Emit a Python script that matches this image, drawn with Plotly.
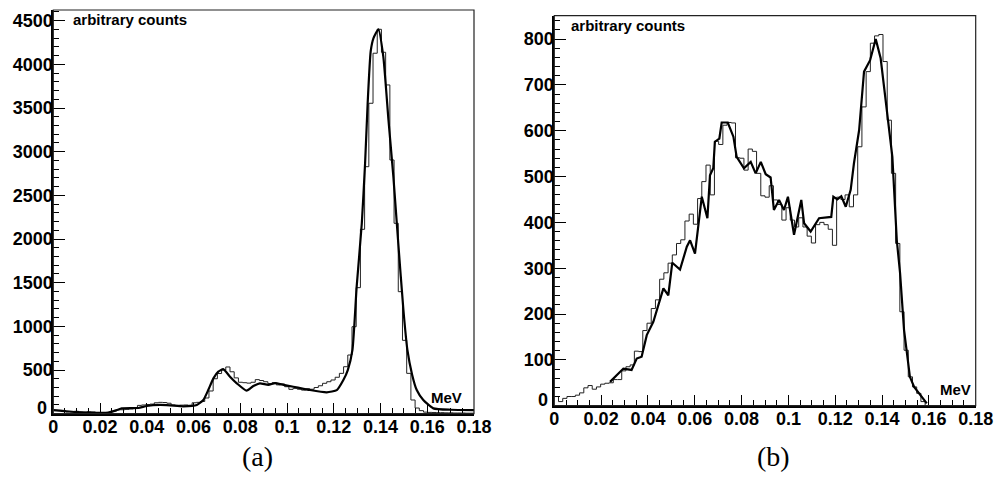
import numpy as np
import plotly.graph_objects as go

# ---------------- data ----------------
N_BINS = 100
X_MIN, X_MAX = 0.0, 0.18

hist_a = [40, 38, 25, 22, 20, 28, 18, 15, 22, 20,
          14, 12, 10, 15, 30, 45, 45, 50, 55, 60,
          95, 100, 105, 110, 125, 130, 128, 120, 100, 95,
          98, 100, 96, 125, 130, 140, 180, 260, 400, 460,
          500, 535, 480, 410, 360, 355, 350, 360, 390, 380,
          366, 345, 355, 330, 340, 309, 279, 290, 280, 270,
          285, 280, 300, 320, 348, 366, 386, 417, 462, 538,
          672, 996, 1443, 2111, 2828, 3554, 4127, 4401, 4138, 3764,
          2905, 2180, 1397, 840, 462, 157, 65, 35, 18, 15,
          14, 12, 12, 10, 10, 8, 8, 8, 6, 6]

curve_a_x = [0, 0.005, 0.01, 0.015, 0.02, 0.0235, 0.027, 0.0293, 0.0364, 0.04,
             0.0457, 0.05, 0.0556, 0.0614, 0.0642, 0.0663, 0.0685, 0.0706, 0.0727, 0.0756,
             0.0785, 0.0827, 0.0856, 0.0884, 0.092, 0.0949, 0.0985, 0.1027, 0.1098, 0.117,
             0.1213, 0.1241, 0.126, 0.128, 0.1298, 0.132, 0.1334, 0.1345, 0.1358, 0.137,
             0.1391, 0.1412, 0.1434, 0.1455, 0.1476, 0.1498, 0.1515, 0.1535, 0.1555, 0.1583,
             0.1626, 0.17, 0.18]
curve_a_y = [40, 30, 18, 12, 10, 12, 40, 61, 65, 88,
             100, 95, 85, 100, 157, 271, 405, 481, 510, 424,
             348, 264, 317, 348, 330, 350, 330, 309, 271, 245,
             271, 386, 500, 730, 1454, 2180, 2867, 3554, 4150, 4300,
             4401, 4088, 3363, 2714, 1951, 1187, 730, 450, 271, 157,
             61, 45, 42]

hist_b = [20, 9, 16, 20, 20, 23, 28, 39, 44, 36,
          41, 47, 49, 50, 57, 57, 76, 85, 89, 119,
          118, 164, 180, 212, 231, 276, 290, 311, 329, 354,
          362, 403, 418, 396, 452, 489, 525, 460, 577, 570,
          612, 618, 617, 541, 540, 514, 560, 555, 507, 458,
          455, 480, 449, 439, 405, 432, 405, 390, 410, 390,
          370, 355, 395, 400, 395, 385, 350, 455, 450, 460,
          434, 460, 565, 652, 729, 791, 807, 810, 751, 623,
          507, 354, 205, 121, 63, 41, 27, 9, 0, 0,
          0, 0, 0, 0, 0, 0, 0, 0, 0, 0]

curve_b_x = [0.0238, 0.0295, 0.0330, 0.0352, 0.0373, 0.0395, 0.0423, 0.0444, 0.0466, 0.0487,
             0.0504, 0.0537, 0.0566, 0.058, 0.0601, 0.063, 0.0654, 0.0665, 0.0679, 0.0686,
             0.0705, 0.0715, 0.0741, 0.0765, 0.0779, 0.081, 0.0839, 0.086, 0.0882, 0.0903,
             0.0924, 0.0938, 0.096, 0.0981, 0.0998, 0.1024, 0.1055, 0.1067, 0.1095, 0.1131,
             0.1183, 0.1192, 0.1209, 0.1226, 0.1245, 0.1266, 0.128, 0.1302, 0.1323, 0.1349,
             0.1373, 0.1394, 0.1422, 0.1444, 0.1463, 0.1477, 0.1494, 0.1508, 0.1519, 0.1537,
             0.1565, 0.1591]
curve_b_y = [52, 81, 78, 103, 107, 154, 183, 220, 256, 241,
             312, 297, 347, 361, 332, 456, 409, 503, 518, 576,
             583, 618, 618, 587, 543, 518, 532, 507, 532, 505,
             498, 427, 449, 427, 456, 373, 449, 398, 380, 409,
             412, 456, 450, 457, 434, 471, 529, 601, 729, 754,
             800, 758, 638, 543, 361, 289, 165, 100, 63, 41,
             23, 5]

x_ticks = [0, 0.02, 0.04, 0.06, 0.08, 0.1, 0.12, 0.14, 0.16, 0.18]
x_tick_text = ["0", "0.02", "0.04", "0.06", "0.08", "0.1", "0.12", "0.14", "0.16", "0.18"]
y_ticks_a = [0, 500, 1000, 1500, 2000, 2500, 3000, 3500, 4000, 4500]
y_ticks_b = [0, 100, 200, 300, 400, 500, 600, 700, 800]

y_label = "arbitrary counts"
x_label = "MeV"
panel_labels = ["(a)", "(b)"]

# ---------------- figure ----------------
W, H = 994, 477
edges = np.linspace(X_MIN, X_MAX, N_BINS + 1)


def step(vals):
    return list(edges), list(vals) + [vals[-1]]


def bold(labels):
    return ["<b>%s</b>" % t for t in labels]


def y_text(vals):
    # the zero label is drawn separately (raised, as in the original)
    return ["" if v == 0 else "<b>%d</b>" % v for v in vals]


fig = go.Figure()

hx, hy = step(hist_a)
fig.add_trace(go.Scatter(x=hx, y=hy, mode="lines", line=dict(shape="hv", color="#222", width=1),
                         xaxis="x", yaxis="y", showlegend=False, hoverinfo="skip"))
fig.add_trace(go.Scatter(x=curve_a_x, y=curve_a_y, mode="lines",
                         line=dict(shape="spline", smoothing=0.5, color="black", width=2.2),
                         xaxis="x", yaxis="y", showlegend=False))

hx, hy = step(hist_b)
fig.add_trace(go.Scatter(x=hx, y=hy, mode="lines", line=dict(shape="hv", color="#222", width=1),
                         xaxis="x2", yaxis="y2", showlegend=False, hoverinfo="skip"))
fig.add_trace(go.Scatter(x=curve_b_x, y=curve_b_y, mode="lines",
                         line=dict(color="black", width=2.2),
                         xaxis="x2", yaxis="y2", showlegend=False))


def px_x(p):
    return p / W


def px_y(p):
    return 1 - p / H


tick_font = dict(family="Liberation Sans", size=18, color="black")

common_x = dict(range=[X_MIN, X_MAX], tickmode="array", tickvals=x_ticks, ticktext=bold(x_tick_text),
                ticks="inside", ticklen=11, tickwidth=1, tickcolor="black",
                minor=dict(dtick=0.005, tick0=0, ticks="inside", ticklen=6, tickwidth=1, tickcolor="black"),
                showline=True, linecolor="black", linewidth=2, mirror=False,
                showgrid=False, zeroline=False, tickfont=tick_font, automargin=False,
                ticklabelstandoff=-4, fixedrange=True)
common_y = dict(ticks="inside", ticklen=12, tickwidth=1, tickcolor="black",
                showline=True, linecolor="black", linewidth=2, mirror=False,
                showgrid=False, zeroline=False, tickfont=tick_font, automargin=False,
                ticklabelstandoff=-5, fixedrange=True)

# panel geometry (pixels)
A = dict(l=53.3, r=474.0, t=10.0, b=413.7)
B = dict(l=554.3, r=975.7, t=15.7, b=405.7)

fig.update_layout(
    width=W, height=H,
    margin=dict(l=0, r=0, t=0, b=0),
    paper_bgcolor="white", plot_bgcolor="white",
    xaxis=dict(common_x, domain=[px_x(A["l"]), px_x(A["r"])], anchor="y"),
    yaxis=dict(common_y, domain=[px_y(A["b"]), px_y(A["t"])], anchor="x",
               range=[0, 4622], tickmode="array", tickvals=y_ticks_a,
               ticktext=y_text(y_ticks_a),
               minor=dict(dtick=100, tick0=0, ticks="inside", ticklen=6, tickwidth=1, tickcolor="black")),
    xaxis2=dict(common_x, domain=[px_x(B["l"]), px_x(B["r"])], anchor="y2"),
    yaxis2=dict(common_y, domain=[px_y(B["b"]), px_y(B["t"])], anchor="x2",
                range=[0, 851], tickmode="array", tickvals=y_ticks_b,
                ticktext=y_text(y_ticks_b),
                minor=dict(dtick=20, tick0=0, ticks="inside", ticklen=6, tickwidth=1, tickcolor="black")),
)

# frames
for P in (A, B):
    fig.add_shape(type="rect", xref="paper", yref="paper",
                  x0=px_x(P["l"]), x1=px_x(P["r"]), y0=px_y(P["b"]), y1=px_y(P["t"]),
                  line=dict(color="#222", width=1.2), fillcolor="rgba(0,0,0,0)", layer="above")

# raised zero labels of the y axes
for P in (A, B):
    fig.add_annotation(text="<b>0</b>", xref="paper", yref="paper",
                       x=px_x(P["l"] - 5), y=px_y(P["b"] - 6), xanchor="right", yanchor="middle",
                       showarrow=False, font=tick_font, borderpad=0)

lab_font = dict(family="Liberation Sans", size=15, color="black")
serif = dict(family="Liberation Serif", size=28, color="black")

fig.add_annotation(text="<b>%s</b>" % y_label, xref="paper", yref="paper", x=px_x(71), y=px_y(19),
                   xanchor="left", yanchor="middle", showarrow=False, font=lab_font)
fig.add_annotation(text="<b>%s</b>" % y_label, xref="paper", yref="paper", x=px_x(569), y=px_y(25.7),
                   xanchor="left", yanchor="middle", showarrow=False, font=lab_font)
fig.add_annotation(text="<b>%s</b>" % x_label, xref="paper", yref="paper", x=px_x(464), y=px_y(397),
                   xanchor="right", yanchor="middle", showarrow=False, font=lab_font)
fig.add_annotation(text="<b>%s</b>" % x_label, xref="paper", yref="paper", x=px_x(973), y=px_y(389),
                   xanchor="right", yanchor="middle", showarrow=False, font=lab_font)
fig.add_annotation(text=panel_labels[0], xref="paper", yref="paper", x=px_x(257.5), y=px_y(456.7),
                   xanchor="center", yanchor="middle", showarrow=False, font=serif)
fig.add_annotation(text=panel_labels[1], xref="paper", yref="paper", x=px_x(773), y=px_y(456.7),
                   xanchor="center", yanchor="middle", showarrow=False, font=serif)

fig.write_html("out.html")
